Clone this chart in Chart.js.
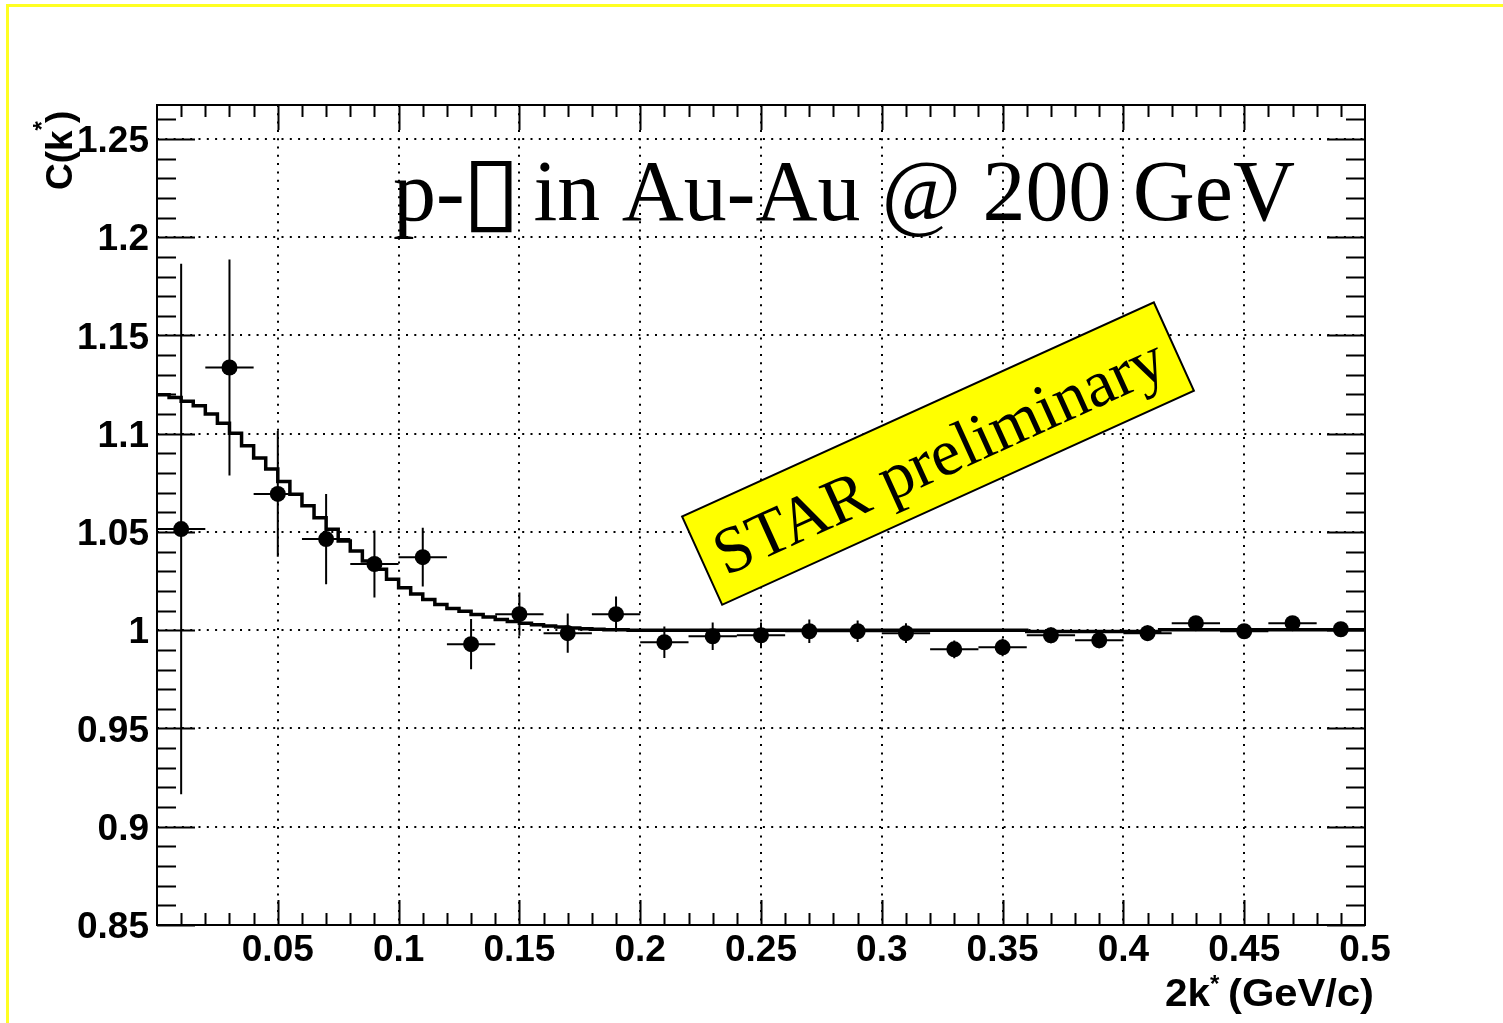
<!DOCTYPE html>
<html>
<head>
<meta charset="utf-8">
<title>p-Lambda C(k*)</title>
<script src="https://cdn.jsdelivr.net/npm/chart.js@4.4.0/dist/chart.umd.min.js"></script>
<style>
  body { margin: 0; background: #fff; }
  #wrap { width: 1503px; height: 1023px; }
</style>
</head>
<body>
<div id="wrap"><canvas id="grafico" width="1503" height="1023"></canvas></div>
<script>
// ---- measured points (bin centres, 2k* in GeV/c) ----
const pointX = [0.01, 0.03, 0.05, 0.07, 0.09, 0.11, 0.13, 0.15, 0.17, 0.19,
                0.21, 0.23, 0.25, 0.27, 0.29, 0.31, 0.33, 0.35, 0.37, 0.39,
                0.41, 0.43, 0.45, 0.47, 0.49];
const pointY = [1.0515, 1.1337, 1.0694, 1.0464, 1.0337, 1.0372, 0.9929, 1.0082, 0.9985, 1.0082,
                0.9939, 0.9969, 0.9974, 0.9995, 0.9995, 0.9985, 0.9903, 0.9913, 0.9974, 0.9949,
                0.9985, 1.0036, 0.9995, 1.0036, 1.0005];
const pointErr = [0.135, 0.055, 0.032, 0.023, 0.017, 0.015, 0.0128, 0.011, 0.010, 0.009,
                  0.008, 0.007, 0.0065, 0.006, 0.0055, 0.005, 0.0045, 0.0045, 0.004, 0.004,
                  0.004, 0.0035, 0.0035, 0.0035, 0.0035];
const pointHalfWidth = 0.01;

// ---- model curve (histogram, 100 bins of 0.005) ----
const curveBinWidth = 0.005;
const curveValues = [
  1.1199, 1.1185, 1.1165, 1.1143, 1.1100, 1.1054, 1.1002, 1.0939, 1.0876, 1.0820,
  1.0757, 1.0692, 1.0633, 1.0573, 1.0514, 1.0454, 1.0403, 1.0352, 1.0310, 1.0259,
  1.0216, 1.0185, 1.0157, 1.0131, 1.0111, 1.0097, 1.0080, 1.0068, 1.0055, 1.0045,
  1.0036, 1.0028, 1.0022, 1.0016, 1.0012, 1.0008, 1.0005, 1.0003, 1.0002, 1.0000,
  1.0000, 1.0000, 1.0000, 1.0000, 1.0000, 1.0000, 1.0000, 1.0000, 1.0000, 1.0000,
  1.0000, 1.0000, 1.0000, 1.0000, 1.0000, 1.0000, 1.0000, 1.0000, 1.0000, 1.0000,
  1.0000, 1.0000, 1.0000, 1.0000, 1.0000, 1.0000, 1.0000, 1.0000, 1.0000, 1.0000,
  1.0000, 1.0000, 0.9993, 0.9993, 0.9993, 0.9993, 0.9993, 0.9993, 0.9993, 0.9993,
  0.9993, 0.9993, 0.9993, 1.0003, 1.0003, 1.0003, 1.0003, 1.0003, 1.0003, 1.0003,
  1.0003, 1.0003, 1.0003, 1.0003, 1.0003, 1.0003, 1.0003, 1.0003, 1.0003, 1.0003
];

// ---- axes ----
const xMin = 0, xMax = 0.5;
const yMin = 0.85, yMax = 1.2673;
const xTicks = [0.05, 0.1, 0.15, 0.2, 0.25, 0.3, 0.35, 0.4, 0.45, 0.5];
const xTickLabels = ['0.05', '0.1', '0.15', '0.2', '0.25', '0.3', '0.35', '0.4', '0.45', '0.5'];
const yTicks = [0.85, 0.9, 0.95, 1, 1.05, 1.1, 1.15, 1.2, 1.25];
const yTickLabels = ['0.85', '0.9', '0.95', '1', '1.05', '1.1', '1.15', '1.2', '1.25'];

// ---- texts ----
const titleLeft = 'p-';
const titleGlyph = '\u25AF';
const titleRight = ' in Au-Au @ 200 GeV';
const stampText = 'STAR preliminary';

// dados para o Chart.js
const curveData = curveValues.map((v, i) => ({ x: i * curveBinWidth, y: v }));
curveData.push({ x: curveValues.length * curveBinWidth, y: curveValues[curveValues.length - 1] });
const pointData = pointX.map((x, i) => ({ x: x, y: pointY[i] }));

const FONT_SANS = '"Liberation Sans", Arial, sans-serif';
const FONT_SERIF = '"Liberation Serif", "Times New Roman", serif';

// escreve um texto esticado para caber numa largura dada
function textoAjustado(c, txt, x, y, largura) {
    const w = c.measureText(txt).width;
    c.save();
    c.translate(x, y);
    c.scale(largura / w, 1);
    c.fillText(txt, 0, 0);
    c.restore();
}

// estilo ROOT: moldura, ticks internos, barras de erro, textos
const rootStyle = {
    id: 'rootStyle',
    beforeDraw(chart) {
        const c = chart.ctx;
        c.save();
        c.fillStyle = '#fff';
        c.fillRect(0, 0, chart.width, chart.height);
        c.strokeStyle = '#ffff22';
        c.lineWidth = 3;
        c.beginPath();
        c.moveTo(chart.width, 5.5);
        c.lineTo(7.5, 5.5);
        c.lineTo(7.5, chart.height);
        c.stroke();
        c.restore();
    },
    beforeDatasetsDraw(chart) {
        const c = chart.ctx, xs = chart.scales.x, ys = chart.scales.y;
        c.save();
        c.strokeStyle = '#000';
        c.lineWidth = 2;
        c.beginPath();
        for (let i = 0; i < pointX.length; i++) {
            const px = xs.getPixelForValue(pointX[i]);
            const py = ys.getPixelForValue(pointY[i]);
            c.moveTo(px, ys.getPixelForValue(pointY[i] + pointErr[i]));
            c.lineTo(px, ys.getPixelForValue(pointY[i] - pointErr[i]));
            c.moveTo(xs.getPixelForValue(pointX[i] - pointHalfWidth), py);
            c.lineTo(xs.getPixelForValue(pointX[i] + pointHalfWidth), py);
        }
        c.stroke();
        c.restore();
    },
    afterDraw(chart) {
        const c = chart.ctx, xs = chart.scales.x, ys = chart.scales.y;
        const a = chart.chartArea;
        c.save();

        // ticks para dentro
        c.strokeStyle = '#000';
        c.lineWidth = 2;
        c.beginPath();
        for (let k = 85; k <= 126; k++) {
            const len = (k % 5 === 0) ? 38 : 19;
            const p = Math.round(ys.getPixelForValue(k / 100)) + 0.5;
            c.moveTo(a.left, p); c.lineTo(a.left + len, p);
            c.moveTo(a.right, p); c.lineTo(a.right - len, p);
        }
        for (let k = 1; k < 50; k++) {
            const len = (k % 5 === 0) ? 25 : 12;
            const p = Math.round(xs.getPixelForValue(k / 100)) + 0.5;
            c.moveTo(p, a.bottom); c.lineTo(p, a.bottom - len);
            c.moveTo(p, a.top); c.lineTo(p, a.top + len);
        }
        c.stroke();
        c.strokeRect(a.left, a.top, a.right - a.left, a.bottom - a.top);

        // titulo
        c.fillStyle = '#000';
        c.textAlign = 'left';
        c.textBaseline = 'alphabetic';
        c.font = '86px ' + FONT_SERIF;
        c.fillText(titleLeft, 393, 220);
        textoAjustado(c, titleRight, 512, 220, 1295 - 512);
        c.save();
        c.font = '86px "DejaVu Sans"';
        const m = c.measureText(titleGlyph);
        const gw = m.actualBoundingBoxLeft + m.actualBoundingBoxRight;
        const gh = m.actualBoundingBoxAscent + m.actualBoundingBoxDescent;
        c.translate(470, 160);
        c.scale(42 / gw, 73 / gh);
        c.fillText(titleGlyph, m.actualBoundingBoxLeft, m.actualBoundingBoxAscent);
        c.restore();

        // carimbo STAR preliminary
        c.save();
        c.translate(938, 453.6);
        c.rotate(-24.4 * Math.PI / 180);
        c.fillStyle = '#ffff00';
        c.fillRect(-259, -48.5, 518, 97);
        c.strokeStyle = '#000';
        c.lineWidth = 2;
        c.strokeRect(-259, -48.5, 518, 97);
        c.fillStyle = '#000';
        c.font = '66px ' + FONT_SERIF;
        c.textAlign = 'center';
        c.fillText(stampText, 0, 24);
        c.restore();

        // titulo eixo x
        c.font = 'bold 38px ' + FONT_SANS;
        c.textAlign = 'left';
        textoAjustado(c, '2k', 1165, 1006, 45);
        textoAjustado(c, '(GeV/c)', 1228, 1006, 146);
        c.font = 'bold 24px ' + FONT_SANS;
        c.fillText('*', 1210, 992);

        // titulo eixo y
        c.save();
        c.translate(72, 190);
        c.rotate(-Math.PI / 2);
        c.font = 'bold 37px ' + FONT_SANS;
        c.textAlign = 'left';
        const w1 = c.measureText('C(k').width;
        c.fillText('C(k', 0, 0);
        c.font = 'bold 24px ' + FONT_SANS;
        const w2 = c.measureText('*').width;
        c.fillText('*', w1, -22);
        c.font = 'bold 37px ' + FONT_SANS;
        c.fillText(')', w1 + w2 - 2, 0);
        c.restore();

        c.restore();
    }
};

var ctx = document.getElementById('grafico').getContext('2d');
var grafico = new Chart(ctx, {
    type: 'scatter',
    data: {
        datasets: [{
            label: 'modelo',
            data: curveData,
            showLine: true,
            stepped: true,
            borderColor: '#000',
            borderWidth: 3.5,
            pointRadius: 0,
            fill: false
        }, {
            label: 'dados',
            data: pointData,
            pointRadius: 8,
            pointBackgroundColor: '#000',
            pointBorderColor: '#000',
            pointBorderWidth: 0
        }]
    },
    options: {
        responsive: false,
        animation: false,
        layout: { padding: { left: 0, top: 105, right: 138, bottom: 0 } },
        plugins: { legend: { display: false }, tooltip: { enabled: false } },
        scales: {
            x: {
                type: 'linear',
                min: xMin,
                max: xMax,
                afterBuildTicks: axis => { axis.ticks = xTicks.map(v => ({ value: v })); },
                afterFit: axis => { axis.height = 98; },
                grid: { color: '#000', lineWidth: 2, drawTicks: false },
                border: { display: false, dash: [2, 6.3] },
                ticks: {
                    color: '#000',
                    padding: 7,
                    maxRotation: 0,
                    autoSkip: false,
                    font: { family: FONT_SANS, size: 37, weight: 'bold', lineHeight: 1 },
                    callback: (v, i) => xTickLabels[i]
                }
            },
            y: {
                type: 'linear',
                min: yMin,
                max: yMax,
                afterBuildTicks: axis => { axis.ticks = yTicks.map(v => ({ value: v })); },
                afterFit: axis => { axis.width = 157; },
                grid: { color: '#000', lineWidth: 2, drawTicks: false },
                border: { display: false, dash: [2, 6.3] },
                ticks: {
                    color: '#000',
                    padding: 8,
                    labelOffset: 3,
                    autoSkip: false,
                    font: { family: FONT_SANS, size: 37, weight: 'bold', lineHeight: 1 },
                    callback: (v, i) => yTickLabels[i]
                }
            }
        }
    },
    plugins: [rootStyle]
});
</script>
</body>
</html>
